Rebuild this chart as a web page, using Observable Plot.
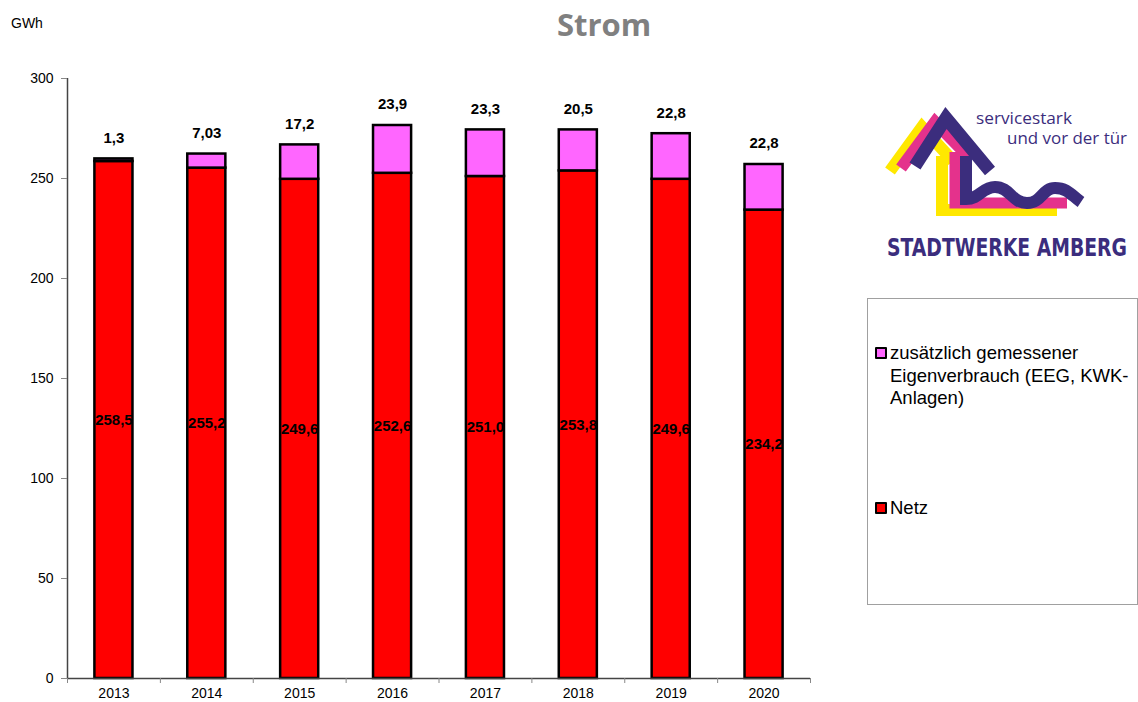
<!DOCTYPE html>
<html>
<head>
<meta charset="utf-8">
<script src="https://cdn.jsdelivr.net/npm/d3@7"></script>
<script src="https://cdn.jsdelivr.net/npm/@observablehq/plot@0.6"></script>
<style>
  html, body { margin: 0; padding: 0; background: #fff; }
  #page { position: relative; width: 1138px; height: 702px; overflow: hidden; font-family: "Liberation Sans", Arial, sans-serif; }
  #chart { position: absolute; left: 0; top: 0; }
  #title { position: absolute; left: 504px; width: 200px; top: 2px; text-align: center; font-family: "Open Sans", sans-serif; font-weight: 700; font-size: 31px; color: #808080; line-height: 44px; }
  #unit { position: absolute; left: 11px; top: 15px; font-size: 14px; line-height: 16px; color: #000; }
  #legend { position: absolute; left: 867px; top: 298px; width: 269px; height: 305px; border: 1px solid #a0a0a0; background: #fff; }
  .item { position: absolute; left: 7px; font-size: 18.5px; line-height: 22.5px; color: #000; }
  .sw { position: absolute; left: 0; top: 5px; width: 8px; height: 8px; border: 2px solid #000; border-radius: 1px; }
  .lbl { position: absolute; left: 15px; top: 0; width: 250px; }
  #logo { position: absolute; left: 860px; top: 90px; }
</style>
</head>
<body>
<div id="page">
  <div id="chart"></div>
  <div id="title">Strom</div>
  <div id="unit">GWh</div>
  <div id="legend"></div>
  <svg id="logo" width="278" height="180" viewBox="0 0 278 180">
    <g fill="none" stroke-linejoin="miter" stroke-miterlimit="10">
      <polyline points="30,81 62,37 93,71" stroke="#ffe800" stroke-width="12"/>
      <polyline points="82,66 82,120 197,120" stroke="#ffe800" stroke-width="12"/>
      <polyline points="41,78 75,32 109,67" stroke="#e4328c" stroke-width="12"/>
      <polyline points="95,62 95,113 207,113" stroke="#e4328c" stroke-width="11"/>
      <polyline points="55,76 86,28 130,81" stroke="#3b2d7d" stroke-width="13"/>
      <path d="M106,66 L106,109 C120,109 122,97 135,97 C150,97 152,113 167,113 C182,113 182,98 195,98 C208,98 212,106 221,112" stroke="#3b2d7d" stroke-width="12"/>
    </g>
    <text x="116" y="34" font-family="Open Sans, sans-serif" font-size="17" fill="#3b2d7d" textLength="96" lengthAdjust="spacingAndGlyphs">servicestark</text>
    <text x="147" y="54" font-family="Open Sans, sans-serif" font-size="17" fill="#3b2d7d" textLength="120" lengthAdjust="spacingAndGlyphs">und vor der tür</text>
    <g transform="translate(27,166) scale(1,1.2)">
      <text x="0" y="0" font-family="DejaVu Sans Condensed, DejaVu Sans, sans-serif" font-weight="bold" font-size="20" fill="#3b2d7d" textLength="240" lengthAdjust="spacingAndGlyphs">STADTWERKE AMBERG</text>
    </g>
  </svg>
</div>
<script>
// ---- data ----
const years = [2013, 2014, 2015, 2016, 2017, 2018, 2019, 2020];
const netz = [258.5, 255.2, 249.6, 252.6, 251.0, 253.8, 249.6, 234.2];
const eigenverbrauch = [1.3, 7.03, 17.2, 23.9, 23.3, 20.5, 22.8, 22.8];
const seriesNames = ["Netz", "zusätzlich gemessener Eigenverbrauch (EEG, KWK-Anlagen)"];
const seriesColors = ["#ff0000", "#ff66ff"];
const yTicks = [0, 50, 100, 150, 200, 250, 300];
const xDomain = [2012.5, 2020.5];
const barHalf = 0.205;

// ---- stacked rows ----
const rows = [];
years.forEach((year, i) => {
  const a = netz[i], b = eigenverbrauch[i];
  rows.push({year, series: seriesNames[0], value: a, y1: 0, y2: a, label: a.toFixed(1).replace(".", ",")});
  rows.push({year, series: seriesNames[1], value: b, y1: a, y2: a + b, label: String(b).replace(".", ",")});
});
const netzRows = rows.filter(d => d.series === seriesNames[0]);
const eigenRows = rows.filter(d => d.series === seriesNames[1]);
const boundaries = d3.range(xDomain[0], xDomain[1] + 0.01, 1);

const chart = Plot.plot({
  width: 820,
  height: 702,
  marginLeft: 67,
  marginRight: 10,
  marginTop: 78,
  marginBottom: 24,
  style: {fontFamily: "'Liberation Sans', Arial, sans-serif", background: "transparent", overflow: "visible"},
  x: {type: "linear", domain: xDomain},
  y: {domain: [0, 300]},
  color: {domain: seriesNames, range: seriesColors},
  marks: [
    Plot.rect(rows, {
      x1: d => d.year - barHalf, x2: d => d.year + barHalf,
      y1: "y1", y2: "y2",
      fill: "series", stroke: "#000", strokeWidth: 2.5
    }),
    Plot.ruleX([xDomain[0]], {stroke: "#444", strokeWidth: 1.5}),
    Plot.ruleY([0], {stroke: "#444", strokeWidth: 1.5}),
    Plot.axisY({ticks: yTicks, tickSize: 6, tickPadding: 8, label: null, fontSize: 14, stroke: "#888", tickFormat: d => String(d)}),
    Plot.axisX({ticks: boundaries, tickSize: 5, tickFormat: () => "", label: null, stroke: "#888"}),
    Plot.axisX({ticks: years, tickSize: 0, tickPadding: 10, label: null, fontSize: 14, tickFormat: d => String(d)}),
    Plot.text(netzRows, {
      x: "year", y: d => (d.y1 + d.y2) / 2, text: "label",
      fontWeight: "bold", fontSize: 15, fill: "#000"
    }),
    Plot.text(eigenRows, {
      x: "year", y: "y2", text: "label", dy: -21,
      fontWeight: "bold", fontSize: 15, fill: "#000"
    })
  ]
});
document.getElementById("chart").appendChild(chart);

// ---- legend (top entry = pink, bottom = Netz) ----
const legend = document.getElementById("legend");
const legendTops = [43, 198];
[1, 0].forEach((si, k) => {
  const item = document.createElement("div");
  item.className = "item";
  item.style.top = legendTops[k] + "px";
  const sw = document.createElement("div");
  sw.className = "sw";
  sw.style.background = seriesColors[si];
  const lbl = document.createElement("div");
  lbl.className = "lbl";
  lbl.textContent = seriesNames[si];
  item.appendChild(sw);
  item.appendChild(lbl);
  legend.appendChild(item);
});
</script>
</body>
</html>
